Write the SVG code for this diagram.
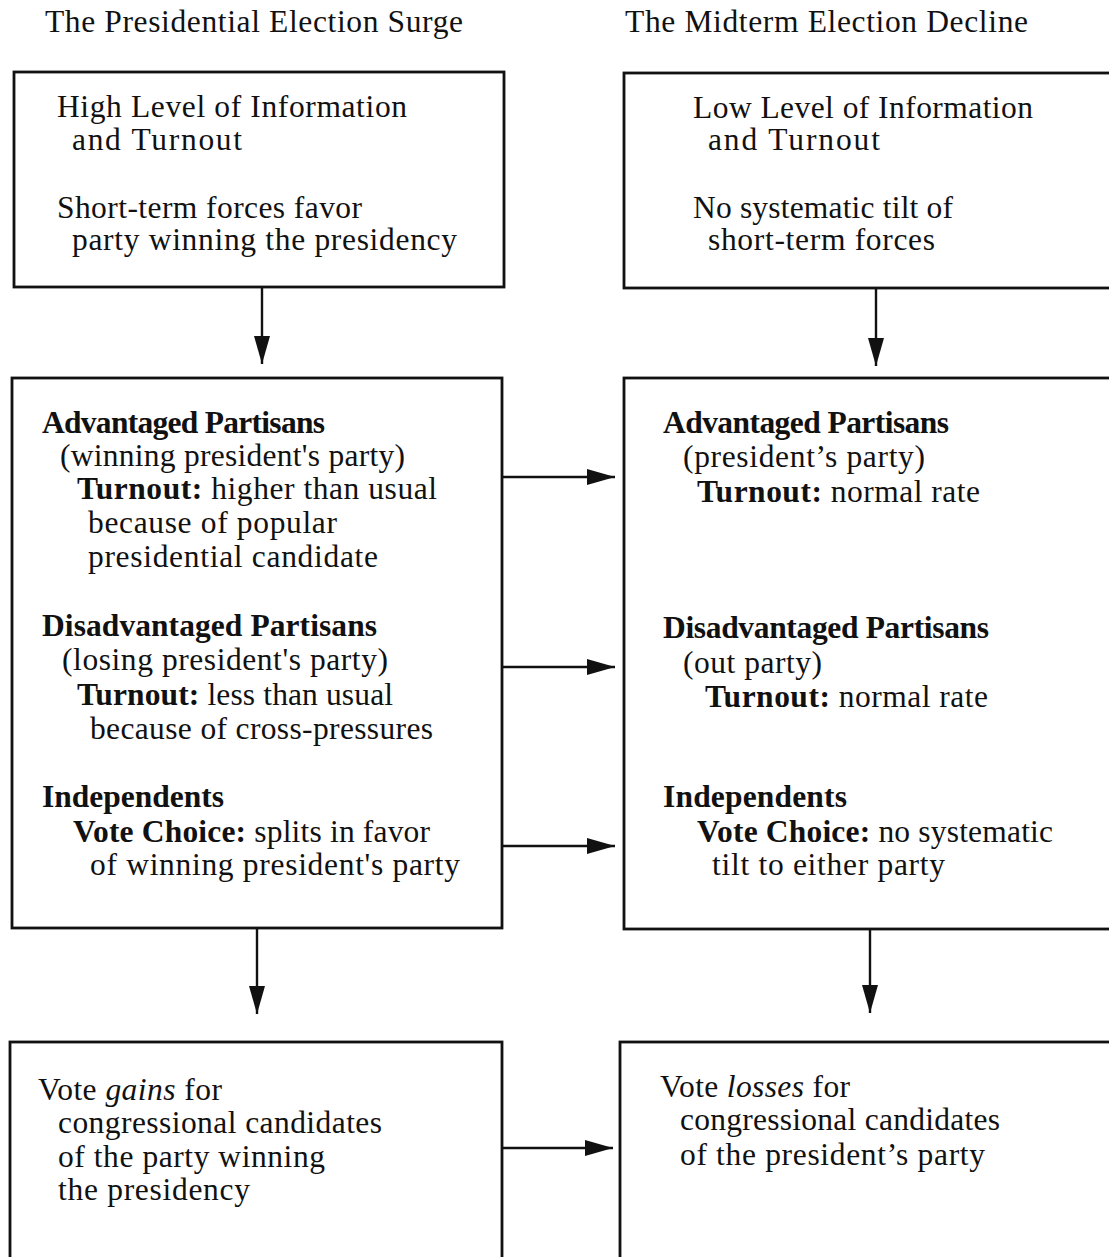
<svg xmlns="http://www.w3.org/2000/svg" width="1109" height="1257" viewBox="0 0 1109 1257">
<style>
.bg{fill:#fff}
.box{fill:#fff;stroke:#111;stroke-width:2.8}
.t{font-family:"Liberation Serif","Times New Roman",serif;font-size:31.5px;fill:#111}
.b{font-weight:bold}
.i{font-style:italic}
.conn line{stroke:#111;stroke-width:2.4}
</style>
<defs>
<marker id="ah" markerUnits="userSpaceOnUse" markerWidth="30" markerHeight="18" refX="28" refY="8" orient="auto">
<path d="M0,0 L28,8 L0,16 Z" fill="#111"/>
</marker>
</defs>
<rect class="bg" x="0" y="0" width="1109" height="1257"/>

<g id="titles">
<text class="t" x="45" y="32" textLength="418">The Presidential Election Surge</text>
<text class="t" x="625" y="32" textLength="403">The Midterm Election Decline</text>
</g>

<g id="pres-info">
<rect class="box" x="14" y="72" width="490" height="215"/>
<text class="t" x="57" y="117" textLength="350">High Level of Information</text>
<text class="t" x="72" y="150" textLength="170">and Turnout</text>
<text class="t" x="57" y="218" textLength="305">Short-term forces favor</text>
<text class="t" x="72" y="250" textLength="385">party winning the presidency</text>
</g>

<g id="mid-info">
<rect class="box" x="624" y="73" width="500" height="215"/>
<text class="t" x="693" y="118" textLength="340">Low Level of Information</text>
<text class="t" x="708" y="150" textLength="172">and Turnout</text>
<text class="t" x="693" y="218" textLength="260">No systematic tilt of</text>
<text class="t" x="708" y="250" textLength="227">short-term forces</text>
</g>

<g id="pres-groups">
<rect class="box" x="12" y="378" width="490" height="550"/>
<text class="t b" x="42" y="433" textLength="283">Advantaged Partisans</text>
<text class="t" x="60" y="466" textLength="345">(winning president's party)</text>
<text class="t" x="77" y="499" textLength="360"><tspan class="b">Turnout:</tspan> higher than usual</text>
<text class="t" x="88" y="533" textLength="249">because of popular</text>
<text class="t" x="88" y="567" textLength="290">presidential candidate</text>
<text class="t b" x="42" y="636" textLength="335">Disadvantaged Partisans</text>
<text class="t" x="62" y="670" textLength="326">(losing president's party)</text>
<text class="t" x="77" y="705" textLength="316"><tspan class="b">Turnout:</tspan> less than usual</text>
<text class="t" x="90" y="739" textLength="343">because of cross-pressures</text>
<text class="t b" x="42" y="807" textLength="182">Independents</text>
<text class="t" x="73" y="842" textLength="357"><tspan class="b">Vote Choice:</tspan> splits in favor</text>
<text class="t" x="90" y="875" textLength="370">of winning president's party</text>
</g>

<g id="mid-groups">
<rect class="box" x="624" y="378" width="500" height="551"/>
<text class="t b" x="663" y="433" textLength="286">Advantaged Partisans</text>
<text class="t" x="683" y="467" textLength="242">(president’s party)</text>
<text class="t" x="697" y="502" textLength="283"><tspan class="b">Turnout:</tspan> normal rate</text>
<text class="t b" x="663" y="638" textLength="326">Disadvantaged Partisans</text>
<text class="t" x="683" y="673" textLength="139">(out party)</text>
<text class="t" x="705" y="707" textLength="283"><tspan class="b">Turnout:</tspan> normal rate</text>
<text class="t b" x="663" y="807" textLength="184">Independents</text>
<text class="t" x="697" y="842" textLength="356"><tspan class="b">Vote Choice:</tspan> no systematic</text>
<text class="t" x="712" y="875" textLength="233">tilt to either party</text>
</g>

<g id="pres-result">
<rect class="box" x="10" y="1042" width="492" height="230"/>
<text class="t" x="38" y="1100" textLength="184">Vote <tspan class="i">gains</tspan> for</text>
<text class="t" x="58" y="1133" textLength="324">congressional candidates</text>
<text class="t" x="58" y="1167" textLength="267">of the party winning</text>
<text class="t" x="58" y="1200" textLength="192">the presidency</text>
</g>

<g id="mid-result">
<rect class="box" x="620" y="1042" width="504" height="230"/>
<text class="t" x="660" y="1097" textLength="190">Vote <tspan class="i">losses</tspan> for</text>
<text class="t" x="680" y="1130" textLength="320">congressional candidates</text>
<text class="t" x="680" y="1165" textLength="305">of the president’s party</text>
</g>

<g id="connectors" class="conn">
<line x1="262" y1="288" x2="262" y2="364" marker-end="url(#ah)"/>
<line x1="876" y1="289" x2="876" y2="366" marker-end="url(#ah)"/>
<line x1="257" y1="929" x2="257" y2="1014" marker-end="url(#ah)"/>
<line x1="870" y1="930" x2="870" y2="1013" marker-end="url(#ah)"/>
<line x1="503" y1="477" x2="615" y2="477" marker-end="url(#ah)"/>
<line x1="503" y1="667" x2="615" y2="667" marker-end="url(#ah)"/>
<line x1="503" y1="846" x2="615" y2="846" marker-end="url(#ah)"/>
<line x1="503" y1="1148" x2="613" y2="1148" marker-end="url(#ah)"/>
</g>
</svg>
